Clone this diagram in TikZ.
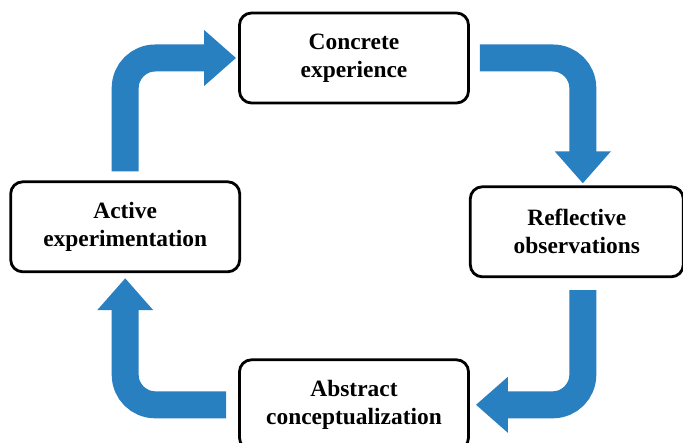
\documentclass[tikz,border=0pt]{standalone}
\usepackage{fontspec}
\setmainfont{Liberation Serif}
\usepackage{xcolor}
\usepackage{tikz}
\usetikzlibrary{positioning,arrows.meta}
\definecolor{flowblue}{RGB}{41,128,193}
\tikzset{
     stage/.style={draw, rounded corners=12bp, line width=2.8bp, fill=white,
                   minimum width=229bp, minimum height=90bp, align=center,
                   font=\fontsize{23.5}{28}\selectfont\bfseries},
     flow/.style={draw=flowblue, line width=27bp, rounded corners=30bp,
                  -{Triangle[width=54bp,length=32bp]}}
     }

\begin{document}
\begin{tikzpicture}[x=1bp, y=-1bp]
    \useasboundingbox (0,0) rectangle (683,443);
    \clip (0,0) rectangle (683,443);

    \node [stage] (con) at (354,58) {Concrete\\experience};
    \node [stage, minimum width=213bp, below right=81bp and -1bp of con] (ref) {Reflective\\observations};
    \node [stage, below=254bp of con] (abs) {Abstract\\conceptualization};
    \node [stage, below left=76bp and -3bp of con] (act) {Active\\experimentation};

    % the learning cycle, clockwise
    \draw [flow] ([xshift=10bp]con.east) -| ([xshift=6bp,yshift=2bp]ref.north);
    \draw [flow] ([xshift=6bp,yshift=-12bp]ref.south) |- ([xshift=6bp]abs.east);
    \draw [flow] ([xshift=-12bp]abs.west) -| ([yshift=-5bp]act.south);
    \draw [flow] ([yshift=9bp]act.north) |- ([xshift=-2bp]con.west);
\end{tikzpicture}
\end{document}
